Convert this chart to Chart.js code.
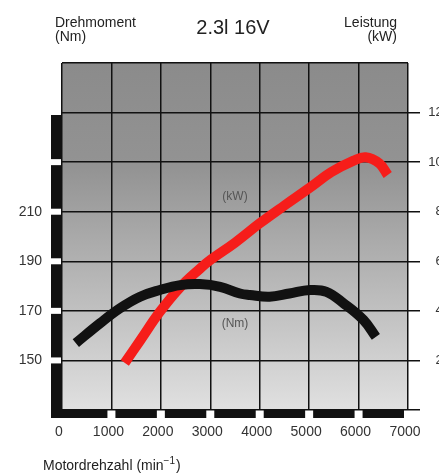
<!DOCTYPE html>
<html>
<head>
<meta charset="utf-8">
<script src="https://cdn.jsdelivr.net/npm/chart.js@4.4.1/dist/chart.umd.min.js"></script>
<style>
  html, body { margin: 0; padding: 0; background: #fff; overflow: hidden; }
  canvas { display: block; }
</style>
</head>
<body>
<!-- the reference is cropped on the right, so the canvas is a bit wider than the window -->
<canvas id="chart" width="450" height="476"></canvas>
<script>
// torque curve (Nm) over engine speed
const rpmNm = [280, 770, 1170, 1580, 1980, 2390, 2790, 3200, 3600, 3800, 4200, 4600, 5020, 5350, 5700, 6100, 6350];
const torque = [157, 165, 171, 175.7, 178.4, 180.4, 180.8, 179.7, 177, 176.4, 175.7, 177, 178.4, 177.7, 173, 166.3, 159.5];

// power curve (kW) over engine speed
const rpmKw = [1270, 1580, 1980, 2390, 2790, 3000, 3500, 4000, 4500, 5000, 5450, 5900, 6140, 6420, 6590];
const power = [19, 28, 39.6, 49.5, 57, 60.5, 67.5, 75.3, 82.5, 89.5, 96, 100.6, 102, 99.5, 94.8];

const rpmTicks = [0, 1000, 2000, 3000, 4000, 5000, 6000, 7000];
const nmLabels = [150, 170, 190, 210];
const kwLabels = [20, 40, 60, 80, 100, 120];

const FONT = "'Liberation Sans', Arial, sans-serif";
const INK = "#111";

const decor = {
  id: "decor",
  beforeDraw(chart) {
    const { ctx, chartArea: a } = chart;
    const g = ctx.createLinearGradient(0, a.top, 0, a.bottom);
    g.addColorStop(0, "#8b8b8b");
    g.addColorStop(0.3, "#939393");
    g.addColorStop(1, "#e0e0e0");
    ctx.save();
    ctx.fillStyle = g;
    ctx.fillRect(a.left, a.top, a.right - a.left, a.bottom - a.top);
    ctx.restore();
  },
  afterDraw(chart) {
    const { ctx, chartArea: a, scales } = chart;
    const x = scales.x, y = scales.y;
    ctx.save();
    // segmented black bar along the left edge
    ctx.fillStyle = INK;
    const gapsY = [230, 210, 190, 170, 150].map(v => y.getPixelForValue(v));
    let top = 115;
    gapsY.forEach(gy => {
      ctx.fillRect(a.left - 11, top, 11, gy - 3 - top);
      top = gy + 3;
    });
    ctx.fillRect(a.left - 11, top, 11, a.bottom + 8 - top);
    // segmented black bar along the bottom edge
    let left = a.left;
    rpmTicks.slice(1).forEach(t => {
      const gx = x.getPixelForValue(t);
      ctx.fillRect(left, a.bottom, gx - 4 - left, 8);
      left = gx + 4;
    });

    // headings
    ctx.fillStyle = "#222";
    ctx.textBaseline = "alphabetic";
    ctx.font = "14px " + FONT;
    ctx.textAlign = "left";
    ctx.fillText("Drehmoment", 55, 27);
    ctx.fillText("(Nm)", 55, 41);
    ctx.textAlign = "right";
    ctx.fillText("Leistung", 397, 27);
    ctx.fillText("(kW)", 397, 41);
    ctx.textAlign = "center";
    ctx.font = "20px " + FONT;
    ctx.fillText("2.3l 16V", 233, 34);

    // x axis caption with superscript
    ctx.textAlign = "left";
    ctx.font = "14px " + FONT;
    const base = "Motordrehzahl (min";
    ctx.fillText(base, 43, 470);
    let w = ctx.measureText(base).width;
    ctx.font = "10px " + FONT;
    ctx.fillText("\u22121", 43 + w, 464);
    w += ctx.measureText("\u22121").width;
    ctx.font = "14px " + FONT;
    ctx.fillText(")", 43 + w + 1, 470);

    // curve labels
    ctx.fillStyle = "#555";
    ctx.font = "12px " + FONT;
    ctx.textAlign = "center";
    ctx.textBaseline = "middle";
    ctx.fillText("(kW)", x.getPixelForValue(3500), scales.yk.getPixelForValue(86));
    ctx.fillText("(Nm)", x.getPixelForValue(3500), y.getPixelForValue(165));
    ctx.restore();
  }
};

new Chart(document.getElementById("chart"), {
  type: "line",
  data: {
    datasets: [
      {
        label: "Drehmoment",
        data: rpmNm.map((r, i) => ({ x: r, y: torque[i] })),
        yAxisID: "y",
        borderColor: INK,
        borderWidth: 10,
        borderCapStyle: "butt",
        tension: 0.4,
        pointRadius: 0
      },
      {
        label: "Leistung",
        data: rpmKw.map((r, i) => ({ x: r, y: power[i] })),
        yAxisID: "yk",
        borderColor: "#f61d1a",
        borderWidth: 10,
        borderCapStyle: "butt",
        tension: 0.4,
        pointRadius: 0
      }
    ]
  },
  options: {
    responsive: false,
    devicePixelRatio: 1,
    animation: false,
    layout: { padding: { top: 63, left: 0, right: 0, bottom: 0 } },
    plugins: { legend: { display: false }, tooltip: { enabled: false } },
    scales: {
      x: {
        type: "linear",
        min: 0,
        max: 7000,
        afterBuildTicks: s => { s.ticks = rpmTicks.map(v => ({ value: v })); },
        afterFit: s => { s.height = 66; },
        border: { display: false },
        grid: { color: INK, lineWidth: 1.5, drawTicks: false },
        ticks: {
          padding: 14,
          labelOffset: -3,
          color: "#333",
          font: { family: FONT, size: 14 },
          maxRotation: 0,
          callback: v => String(v)
        }
      },
      y: {
        position: "left",
        min: 130,
        max: 270,
        afterBuildTicks: s => { s.ticks = nmLabels.map(v => ({ value: v })); },
        afterFit: s => { s.width = 62; },
        border: { display: false },
        grid: { display: false, drawTicks: false },
        ticks: { padding: 20, color: "#333", font: { family: FONT, size: 14 } }
      },
      yk: {
        position: "right",
        min: 0,
        max: 140,
        afterBuildTicks: s => { s.ticks = [0].concat(kwLabels, [140]).map(v => ({ value: v })); },
        afterFit: s => { s.width = 42; },
        border: { display: false },
        grid: {
          color: INK,
          lineWidth: 1.5,
          tickLength: 12,
          tickColor: c => (c.tick && c.tick.value === 140 ? "rgba(0,0,0,0)" : INK)
        },
        ticks: {
          crossAlign: "far",
          padding: 4,
          color: "#333",
          font: { family: FONT, size: 13 },
          callback: v => (kwLabels.includes(v) ? String(v) : "")
        }
      }
    }
  },
  plugins: [decor]
});
</script>
</body>
</html>
